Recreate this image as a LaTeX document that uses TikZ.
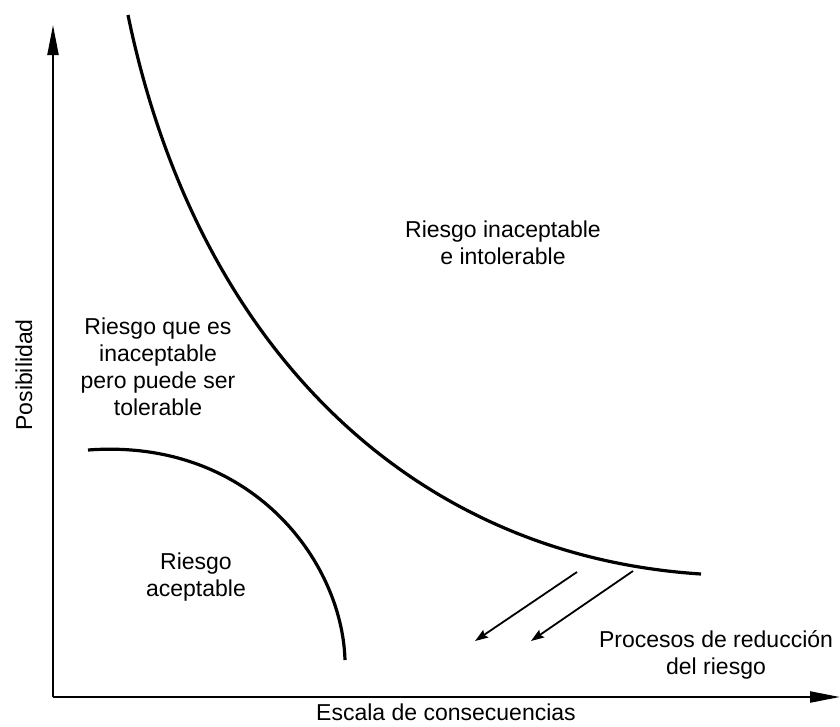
\documentclass[tikz,border=0pt]{standalone}
\usepackage{fontspec}
\setmainfont{Liberation Sans}
\usetikzlibrary{arrows.meta}
\begin{document}
\begin{tikzpicture}[x=1pt,y=-1pt,font=\fontsize{23}{27}\selectfont,line join=round,
  zona/.style={align=center},
  eje/.style={line width=2.2pt,-{Triangle[length=30pt,width=11pt]}},
  curva/.style={line width=3.2pt},
  flecha/.style={line width=1.8pt,-{Stealth[length=13pt,width=9pt,inset=2pt]}}]
\useasboundingbox (0,0) rectangle (840,726);
\coordinate (O) at (53,697);
\coordinate (ytop) at (53,25);
\coordinate (xend) at (840,697);
\draw[eje] (O)--(ytop);
\draw[eje] (O)--(xend);
% curvas de riesgo
\draw[curva] (128,15) .. controls (195,340) and (405,555) .. (701,574);
\draw[curva] (88,450) .. controls (250,438) and (342,560) .. (345,660);
% flechas de reduccion
\foreach \fx/\fy/\tx/\ty in {577/572/475/641,633/571/531/641}{\draw[flecha] (\fx,\fy)--(\tx,\ty);}
\path
(503,243) node[zona] (intol) {Riesgo inaceptable\\e intolerable}
(158,367) node[zona] (tol) {Riesgo que es\\inaceptable\\pero puede ser\\tolerable}
(196,577) node[zona] (acep) {Riesgo\\aceptable}
(716,655) node[zona] (proc) {Procesos de reducción\\del riesgo}
(446,712) node[inner sep=0pt] (xlab) {Escala de consecuencias}
(24,375) node[rotate=90] (ylab) {Posibilidad};
\end{tikzpicture}
\end{document}
